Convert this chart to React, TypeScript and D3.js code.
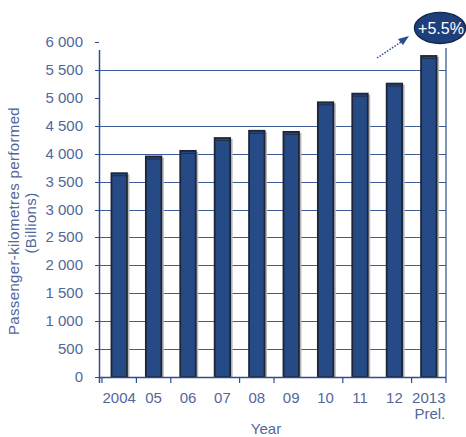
import React from "react";
import * as d3 from "d3";

const years = ["2004", "05", "06", "07", "08", "09", "10", "11", "12", "2013"];
const values = [3650, 3950, 4050, 4280, 4410, 4390, 4920, 5075, 5255, 5750];
const yTickValues = [0, 500, 1000, 1500, 2000, 2500, 3000, 3500, 4000, 4500, 5000, 5500, 6000];
const gridValues = [500, 1000, 1500, 2000, 2500, 3000, 3500, 4000, 4500, 5500];
const xTickBoundaries = [0, 1, 2, 4, 5, 7, 9, 10];
const lastNote = "Prel.";
const growthLabel = "+5.5%";
const yTitle1 = "Passenger-kilometres performed";
const yTitle2 = "(Billions)";
const xTitle = "Year";

const W = 466;
const H = 437;
const left = 99;
const right = 446;
const top = 42;
const bottom = 377;

const axisColor = "#2d4d8e";
const labelColor = "#52679a";
const barFill = "#264a86";
const narrow = "'Liberation Sans Narrow', 'Arial Narrow', 'Liberation Sans', Arial, sans-serif";
const sans = "'Liberation Sans', Arial, sans-serif";

export default function App() {
  const y = d3.scaleLinear().domain([0, 6000]).range([bottom, top]);
  const x = d3
    .scaleBand<string>()
    .domain(years)
    .range([left + 3, right])
    .paddingInner(0.55)
    .paddingOuter(0.275);
  const step = x.step();
  const x0 = (x(years[0]) as number) - step * x.paddingOuter();
  const fmt = (v: number) => d3.format(",")(v).replace(/,/g, " ");
  const bw = x.bandwidth();

  return (
    <svg
      width={W}
      height={H}
      style={{ position: "absolute", left: 0, top: 0, background: "#fff" }}
    >
      {/* gridlines */}
      {gridValues.map((v) => (
        <line
          key={"g" + v}
          x1={left - 4}
          x2={right}
          y1={Math.round(y(v)) + 0.5}
          y2={Math.round(y(v)) + 0.5}
          stroke="#3d5b98"
          strokeWidth={1}
        />
      ))}
      {/* y ticks (left) */}
      {yTickValues.map((v) => (
        <line
          key={"t" + v}
          x1={left - 4}
          x2={left}
          y1={Math.round(y(v)) + 0.5}
          y2={Math.round(y(v)) + 0.5}
          stroke={axisColor}
          strokeWidth={1}
        />
      ))}
      {/* bars */}
      {years.map((yr, i) => {
        const bx = x(yr) as number;
        const by = y(values[i]);
        return (
          <g key={"b" + yr}>
            <rect
              x={bx + 1.5}
              y={by + 1}
              width={bw + 1}
              height={bottom - by - 1}
              fill="#b8b8b8"
            />
            <rect
              x={bx}
              y={by}
              width={bw}
              height={bottom - by}
              fill={barFill}
              stroke="#1d2636"
              strokeWidth={1.8}
            />
            <line
              x1={bx + 1}
              x2={bx + bw - 1}
              y1={by + 2.5}
              y2={by + 2.5}
              stroke="#1d2636"
              strokeWidth={0.8}
            />
          </g>
        );
      })}
      {/* axes */}
      <line x1={left + 0.5} x2={left + 0.5} y1={50} y2={bottom + 6} stroke={axisColor} strokeWidth={1.5} />
      <line x1={right} x2={right} y1={48} y2={bottom} stroke={axisColor} strokeWidth={1.2} />
      <line x1={left} x2={right} y1={bottom + 0.5} y2={bottom + 0.5} stroke={axisColor} strokeWidth={1.5} />
      {xTickBoundaries.map((k) => (
        <line
          key={"xt" + k}
          x1={x0 + k * step}
          x2={x0 + k * step}
          y1={bottom}
          y2={bottom + 6}
          stroke={axisColor}
          strokeWidth={1.2}
        />
      ))}
      {/* y labels */}
      {yTickValues.map((v) => (
        <text
          key={"yl" + v}
          x={83}
          y={y(v) + 5}
          textAnchor="end"
          fontFamily={narrow}
          fontSize={15}
          fill={labelColor}
        >
          {fmt(v)}
        </text>
      ))}
      {/* x labels */}
      {years.map((yr) => (
        <text
          key={"xl" + yr}
          x={(x(yr) as number) + bw / 2}
          y={403}
          textAnchor="middle"
          fontFamily={narrow}
          fontSize={15}
          fill={labelColor}
        >
          {yr}
        </text>
      ))}
      <text
        x={(x(years[years.length - 1]) as number) + bw / 2 + 1}
        y={419}
        textAnchor="middle"
        fontFamily={narrow}
        fontSize={15}
        fill={labelColor}
      >
        {lastNote}
      </text>
      {/* axis titles */}
      <text
        x={266}
        y={434}
        textAnchor="middle"
        fontFamily={narrow}
        fontSize={15}
        fill={labelColor}
      >
        {xTitle}
      </text>
      <text
        transform="translate(19,221) rotate(-90)"
        textAnchor="middle"
        fontFamily={sans}
        fontSize={15}
        letterSpacing={0.35}
        fill={labelColor}
      >
        {yTitle1}
      </text>
      <text
        transform="translate(36,223) rotate(-90)"
        textAnchor="middle"
        fontFamily={sans}
        fontSize={15}
        letterSpacing={0.35}
        fill={labelColor}
      >
        {yTitle2}
      </text>
      {/* growth annotation */}
      <line
        x1={377}
        y1={58}
        x2={401}
        y2={42}
        stroke={axisColor}
        strokeWidth={1.5}
        strokeDasharray="1.5 1.5"
      />
      <polygon points="409,36 398,39 403,45" fill={axisColor} />
      <ellipse cx={440} cy={28} rx={25.5} ry={15.5} fill="#1f3f7c" stroke="#142a52" strokeWidth={1.5} />
      <text
        x={441}
        y={34}
        textAnchor="middle"
        fontFamily={sans}
        fontSize={16}
        fill="#ffffff"
      >
        {growthLabel}
      </text>
    </svg>
  );
}
